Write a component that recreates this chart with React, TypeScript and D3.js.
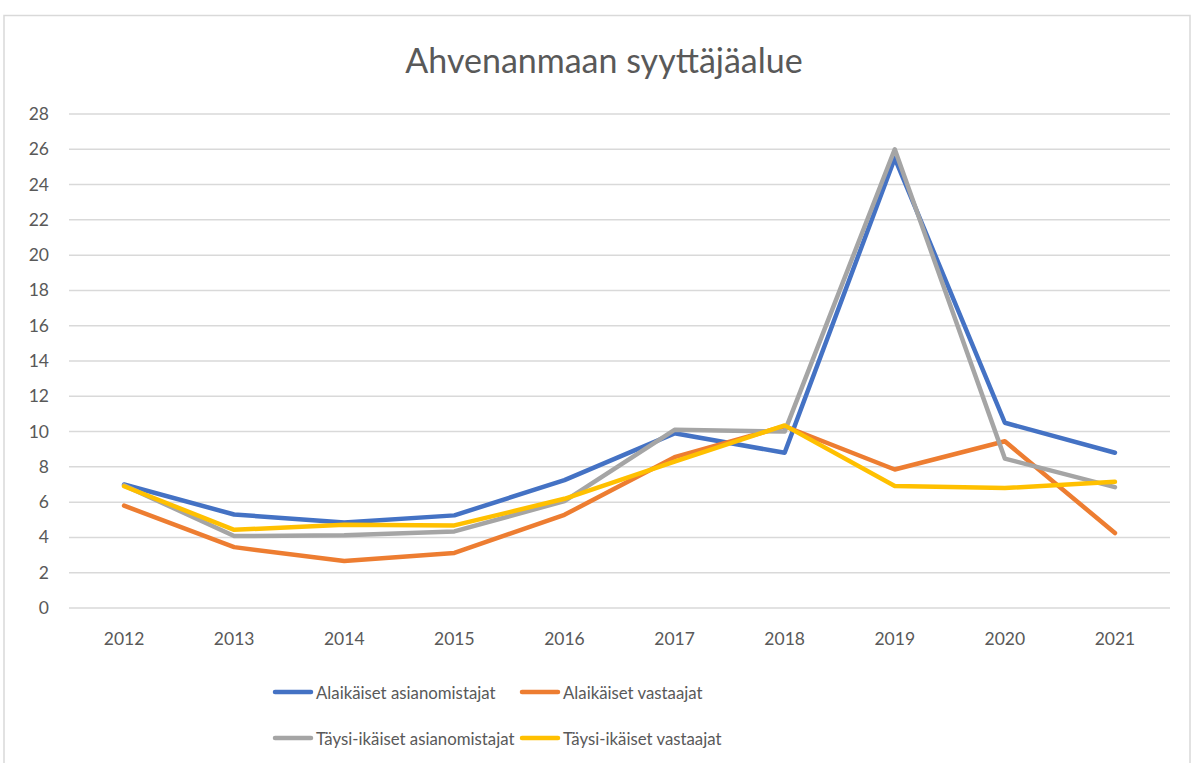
import * as d3 from "d3";
import { useEffect, useRef } from "react";

const years = ["2012", "2013", "2014", "2015", "2016", "2017", "2018", "2019", "2020", "2021"];
const alaikaisetAsianomistajat = [7.0, 5.3, 4.85, 5.25, 7.25, 9.9, 8.8, 25.5, 10.5, 8.8];
const alaikaisetVastaajat = [5.8, 3.45, 2.66, 3.12, 5.28, 8.55, 10.3, 7.85, 9.45, 4.25];
const taysiAsianomistajat = [6.95, 4.08, 4.12, 4.34, 6.06, 10.1, 10.0, 26.0, 8.47, 6.85];
const taysiVastaajat = [6.9, 4.43, 4.72, 4.68, 6.19, 8.3, 10.35, 6.92, 6.8, 7.15];
const yTicks = [0, 2, 4, 6, 8, 10, 12, 14, 16, 18, 20, 22, 24, 26, 28];

const series = [
  { name: "Alaikäiset asianomistajat", values: alaikaisetAsianomistajat, color: "#4472C4" },
  { name: "Alaikäiset vastaajat", values: alaikaisetVastaajat, color: "#ED7D31" },
  { name: "Täysi-ikäiset asianomistajat", values: taysiAsianomistajat, color: "#A5A5A5" },
  { name: "Täysi-ikäiset vastaajat", values: taysiVastaajat, color: "#FFC000" },
];

const W = 1191;
const H = 763;
const FONT = "Lato, 'Open Sans', sans-serif";

const App = () => {
  const svgRef = useRef(null);

  useEffect(() => {
    const svg = d3.select(svgRef.current);
    svg.selectAll("*").remove();

    const margin = { top: 114, right: 21, bottom: 155, left: 69 };

    // chart frame
    svg
      .append("rect")
      .attr("x", 4)
      .attr("y", 15.5)
      .attr("width", W - 5)
      .attr("height", H - 14)
      .attr("fill", "#fff")
      .attr("stroke", "#d9d9d9")
      .attr("stroke-width", 1.5);

    svg
      .append("text")
      .attr("x", 604)
      .attr("y", 73)
      .attr("text-anchor", "middle")
      .attr("fill", "#595959")
      .attr("font-family", FONT)
      .attr("font-size", 34)
      .text("Ahvenanmaan syyttäjäalue");

    const xScale = d3
      .scaleBand()
      .domain(years)
      .range([margin.left, W - margin.right]);

    const yScale = d3
      .scaleLinear()
      .domain([0, 28])
      .range([H - margin.bottom, margin.top]);

    // gridlines
    svg
      .selectAll(".grid")
      .data(yTicks)
      .enter()
      .append("line")
      .attr("class", "grid")
      .attr("x1", margin.left)
      .attr("x2", W - margin.right)
      .attr("y1", (d) => yScale(d))
      .attr("y2", (d) => yScale(d))
      .attr("stroke", "#d9d9d9")
      .attr("stroke-width", 1.5);

    svg
      .selectAll(".yLabel")
      .data(yTicks)
      .enter()
      .append("text")
      .attr("class", "yLabel")
      .attr("x", 49)
      .attr("y", (d) => yScale(d) + 6)
      .attr("text-anchor", "end")
      .attr("fill", "#595959")
      .attr("font-family", FONT)
      .attr("font-size", 17.5)
      .text((d) => d);

    svg
      .selectAll(".xLabel")
      .data(years)
      .enter()
      .append("text")
      .attr("class", "xLabel")
      .attr("x", (d) => xScale(d) + xScale.bandwidth() / 2)
      .attr("y", 645)
      .attr("text-anchor", "middle")
      .attr("fill", "#595959")
      .attr("font-family", FONT)
      .attr("font-size", 17.5)
      .text((d) => d);

    const line = d3
      .line()
      .x((d, i) => xScale(years[i]) + xScale.bandwidth() / 2)
      .y((d) => yScale(d));

    svg
      .selectAll(".series")
      .data(series)
      .enter()
      .append("path")
      .attr("class", "series")
      .attr("d", (d) => line(d.values))
      .attr("fill", "none")
      .attr("stroke", (d) => d.color)
      .attr("stroke-width", 4.5)
      .attr("stroke-linejoin", "round")
      .attr("stroke-linecap", "round");

    // legend, two columns
    const legendPos = [
      { x: 273, y: 692 },
      { x: 520, y: 692 },
      { x: 273, y: 738 },
      { x: 520, y: 738 },
    ];
    const legend = svg
      .selectAll(".legend")
      .data(series)
      .enter()
      .append("g")
      .attr("class", "legend")
      .attr("transform", (d, i) => `translate(${legendPos[i].x}, ${legendPos[i].y})`);

    legend
      .append("line")
      .attr("x1", 2)
      .attr("x2", 38)
      .attr("stroke", (d) => d.color)
      .attr("stroke-width", 4.5)
      .attr("stroke-linecap", "round");

    legend
      .append("text")
      .attr("x", 43)
      .attr("y", 6.5)
      .attr("fill", "#595959")
      .attr("font-family", FONT)
      .attr("font-size", 16.8)
      .text((d) => d.name);
  }, []);

  return (
    <svg
      ref={svgRef}
      width={W}
      height={H}
      style={{ position: "absolute", left: 0, top: 0 }}
    ></svg>
  );
};

export default App;
